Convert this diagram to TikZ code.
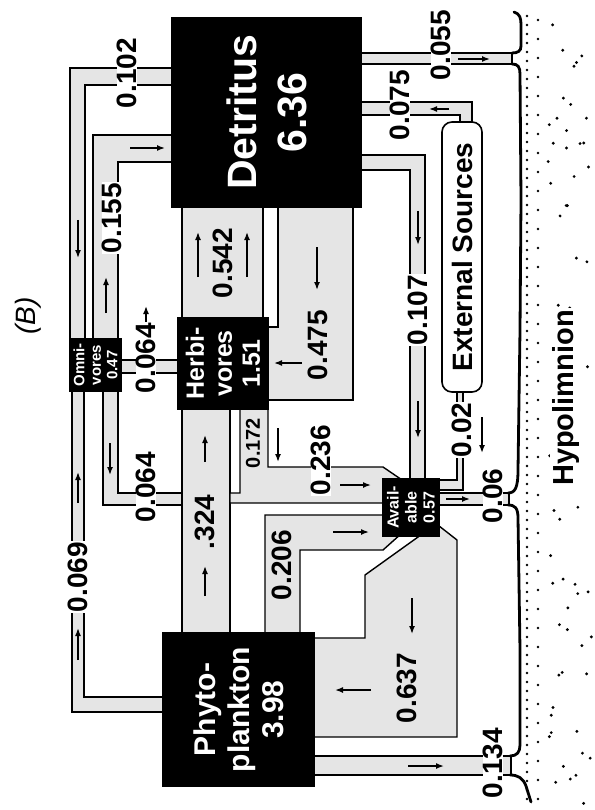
\documentclass[tikz,border=0pt]{standalone}
\usepackage{fontspec}
\setmainfont{Liberation Sans}
\usetikzlibrary{arrows.meta}
\begin{document}
\begin{tikzpicture}[x=1pt,y=-1pt]
\tikzset{
  chan/.style={fill=black!10, draw=black, line width=1.4pt},
  blk/.style={fill=black, text=white, align=center, inner sep=0pt, rotate=90},
  lab/.style={rotate=90, inner sep=0.5pt, font=\bfseries\fontsize{28}{28}\selectfont},
  wlab/.style={lab, fill=white},
  flow/.style={-{Latex[length=8pt,width=6pt]}, line width=1.5pt},
  bound/.style={line width=2.8pt, line cap=round},
  dot/.style={fill=black},
}
\path[use as bounding box] (0,0) rectangle (594,810);

% ---- channels ----
\draw[chan] (175,68) -- (70,68) -- (70,345) -- (85,345) -- (85,85) -- (175,85) -- cycle; % 0.102
\draw[chan] (175,135) -- (93,135) -- (93,345) -- (118,345) -- (118,162) -- (175,162) -- cycle; % 0.155
\draw[chan] (166,697) -- (84,697) -- (84,385) -- (72,385) -- (72,712) -- (166,712) -- cycle; % 0.069
\draw[chan] (103,385) -- (103,505) -- (184,505) -- (184,493) -- (118,493) -- (118,385) -- cycle; % 0.064 low
\draw[chan] (118,360) -- (180,360) -- (180,373) -- (118,373) -- cycle; % 0.064 up
\draw[chan] (182,203) -- (263,203) -- (263,322) -- (182,322) -- cycle; % 0.542
\draw[chan] (278,203) -- (353,203) -- (353,400) -- (265,400) -- (265,327) -- (278,327) -- cycle; % 0.475
\draw[chan] (182,405) -- (230,405) -- (230,637) -- (182,637) -- cycle; % .324
\draw[chan] (240,405) -- (240,493) -- (230,493) -- (230,503) -- (390,503) -- (405,482) -- (383,467) -- (268,467) -- (268,405) -- cycle; % 0.236
\draw[chan] (265,637) -- (265,515) -- (388,515) -- (402,533) -- (383,550) -- (300,550) -- (300,637) -- cycle; % 0.206
\draw[chan] (425,532) -- (365,575) -- (365,638) -- (310,638) -- (310,737) -- (457,737) -- (457,540) -- (434,522) -- cycle; % 0.637
\draw[chan] (310,756) -- (511,756) -- (511,775) -- (310,775) -- cycle; % 0.134
\draw[chan] (435,493) -- (509,493) -- (509,505) -- (435,505) -- cycle; % 0.06
\draw[chan] (457,388) -- (457,480) -- (435,480) -- (435,490) -- (463,490) -- (463,388) -- cycle; % 0.02
\draw[chan] (358,155) -- (425,155) -- (425,483) -- (410,483) -- (410,170) -- (358,170) -- cycle; % 0.107
\draw[chan] (358,102) -- (472,102) -- (472,127) -- (460,127) -- (460,115) -- (358,115) -- cycle; % 0.075
\draw[chan] (358,53) -- (512,53) -- (512,64) -- (358,64) -- cycle; % 0.055

% ---- compartments ----
\node[blk, minimum width=191pt, minimum height=191pt, font=\bfseries\fontsize{41}{50}\selectfont] (det) at (266.5,112.5) {Detritus\\6.36};
\node[blk, minimum width=93pt, minimum height=92pt, font=\bfseries\fontsize{25}{28}\selectfont] (herb) at (223,363.5) {Herbi-\\vores\\1.51};
\node[blk, minimum width=54pt, minimum height=53pt, font=\bfseries\fontsize{15}{16.5}\selectfont] (omni) at (95.5,365) {Omni-\\vores\\0.47};
\node[blk, minimum width=155pt, minimum height=153pt, font=\bfseries\fontsize{30}{34}\selectfont] (phyto) at (238.5,709.5) {Phyto-\\plankton\\3.98};
\node[blk, minimum width=59pt, minimum height=58pt, font=\bfseries\fontsize{16}{18}\selectfont] (avail) at (411,507.5) {Avail-\\able\\0.57};
\node[rotate=90, draw, fill=white, line width=1.6pt, rounded corners=10pt, minimum width=270pt, minimum height=40pt, inner sep=0pt, font=\bfseries\fontsize{28}{28}\selectfont] (ext) at (462,257) {External Sources};

% ---- hypolimnion boundary ----
\draw[bound] (514,12) .. controls (520,14) and (521,18) .. (521,25) -- (521,46) .. controls (521,51) and (518,53) .. (512,53);
\draw[bound] (512,64) .. controls (518,64) and (520,67) .. (520,74) -- (521,200) -- (520,330) -- (518,470) .. controls (518,488) and (515,493) .. (508,493);
\draw[bound] (508,505) .. controls (515,505) and (518,508) .. (518,518) -- (520,650) -- (520,745) .. controls (520,752) and (517,756) .. (510,756);
\draw[bound] (510,775) .. controls (518,775) and (523,778) .. (526,786) -- (531,802);

% ---- dots ----
\foreach \yy in {16,25,...,806} \fill[dot] (527,\yy) circle (1.4pt);
\foreach \yy in {20,39,...,806} \fill[dot] (538,\yy) circle (1.4pt);
\pgfmathsetseed{7}
\foreach \i in {1,...,65}{
  \pgfmathsetmacro\rx{548+44*rnd}
  \pgfmathsetmacro\ry{10+795*rnd}
  \fill[dot] (\rx,\ry) circle (1.6pt);
}
\node[rotate=90, fill=white, inner sep=2pt, font=\bfseries\fontsize{29}{29}\selectfont] (hyp) at (566,398) {Hypolimnion};
\node[rotate=90, font=\itshape\fontsize{28}{28}\selectfont] (B) at (28,316) {(B)};

% ---- flow arrows ----
\draw[flow] (78,220) -- (78,258);
\draw[flow] (130,148) -- (165,148);
\draw[flow] (106,313) -- (106,277);
\draw[flow] (78,660) -- (78,628);
\draw[flow] (78,503) -- (78,472);
\draw[flow] (110,443) -- (110,475);
\draw[flow] (146,324) -- (146,306);
\draw[flow] (198,277) -- (198,232);
\draw[flow] (247,277) -- (247,232);
\draw[flow] (317,247) -- (317,290);
\draw[flow] (302,363) -- (274,363);
\draw[flow] (205,462) -- (205,435);
\draw[flow] (205,596) -- (205,566);
\draw[flow] (278,428) -- (278,462);
\draw[flow] (340,485) -- (371,485);
\draw[flow] (333,532) -- (369,532);
\draw[flow] (412,598) -- (412,634);
\draw[flow] (371,690) -- (335,690);
\draw[flow] (408,766) -- (444,766);
\draw[flow] (418,211) -- (418,245);
\draw[flow] (418,401) -- (418,438);
\draw[flow] (449,109) -- (429,109);
\draw[flow] (458,59) -- (490,59);
\draw[flow] (446,499) -- (470,499);
\draw[flow] (482,417) -- (482,453);

% ---- flow labels ----
\node[wlab] (l102) at (127,73) {0.102};
\node[wlab] (l155) at (112,218) {0.155};
\node[wlab] (l064a) at (146,358) {0.064};
\node[wlab] (l064b) at (146,487) {0.064};
\node[wlab] (l069) at (78,577) {0.069};
\node[lab] (l542) at (223,263) {0.542};
\node[lab] (l475) at (318,345) {0.475};
\node[lab] (l324) at (205,522) {.324};
\node[lab, font=\bfseries\fontsize{20}{20}\selectfont] (l172) at (253,443) {0.172};
\node[wlab] (l236) at (321,460) {0.236};
\node[lab] (l206) at (282,565) {0.206};
\node[lab] (l637) at (407,688) {0.637};
\node[wlab] (l134) at (493,763) {0.134};
\node[wlab] (l06) at (493,496) {0.06};
\node[wlab] (l02) at (462,430) {0.02};
\node[wlab] (l107) at (418,310) {0.107};
\node[wlab] (l075) at (400,105) {0.075};
\node[wlab] (l055) at (441,45) {0.055};
\end{tikzpicture}
\end{document}
